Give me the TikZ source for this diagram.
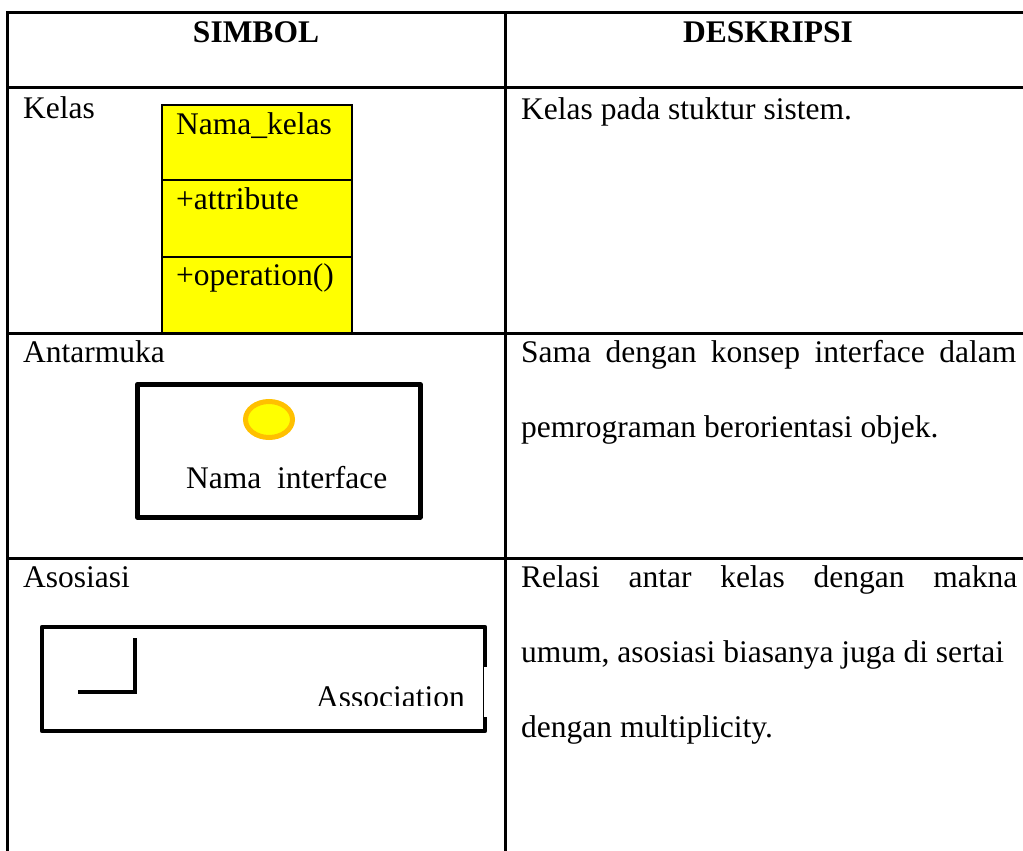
\documentclass[tikz,border=0pt]{standalone}
\usepackage{fontspec}
\setmainfont{Liberation Serif}
\usetikzlibrary{shapes.geometric}
\definecolor{umlyellow}{HTML}{FFFF00}
\definecolor{umlorange}{HTML}{FFC000}
\begin{document}
\begin{tikzpicture}[x=1pt,y=-1pt,
  txt/.style={anchor=base west, inner sep=0pt, font=\fontsize{31.5}{38}\selectfont},
  hdr/.style={anchor=base, inner sep=0pt, font=\fontsize{31.5}{38}\selectfont\bfseries},
  rule/.style={line width=3pt},
  classpart/.style={draw, fill=umlyellow, line width=2pt, anchor=north west,
    minimum width=190pt, minimum height=76pt, inner sep=0pt},
  symbox/.style={draw, line width=4.5pt, line join=round, anchor=north west, inner sep=0pt},
  iface/.style={ellipse, draw=umlorange, fill=umlyellow, line width=5pt,
    minimum width=47pt, minimum height=36pt, inner sep=0pt}]
\useasboundingbox (0,0) rectangle (1023,851);

% table grid
\draw[rule] (7,13) -- (1023,13);
\draw[rule] (7,88) -- (1023,88);
\draw[rule] (7,333) -- (1023,333);
\draw[rule] (7,558) -- (1023,558);
\draw[rule] (7,11.5) -- (7,851);
\draw[rule] (505,11.5) -- (505,851);

% header
\node[hdr] (hsym) at (256,43) {SIMBOL};
\node[hdr] (hdesc) at (768,43) {DESKRIPSI};

% row: class
\node[txt] (kelas) at (23,118) {Kelas};
\node[classpart] (cname) at (161,104) {};
\node[classpart, minimum height=77pt] (cattr) at (161,179) {};
\node[classpart] (cop) at (161,256) {};
\node[txt] (tname) at (176,134) {Nama\_kelas};
\node[txt] (tattr) at (176,209) {+attribute};
\node[txt] (top) at (176,285) {+operation()};
\node[txt] (dkelas) at (521,119) {Kelas pada stuktur sistem.};

% row: interface
\node[txt] (antarmuka) at (23,362) {Antarmuka};
\node[symbox, minimum width=283pt, minimum height=133pt] (ibox) at (135,382) {};
\node[iface] (iball) at (269,419.5) {};
\node[txt] (iname) at (186,488) {Nama\ \ interface};
\node[txt] (dif1) at (521,362) {\makebox[495pt][s]{Sama dengan konsep interface dalam}};
\node[txt] (dif2) at (521,437) {pemrograman berorientasi objek.};

% row: association
\node[txt] (asosiasi) at (23,587) {Asosiasi};
\coordinate (atl) at (42,627);
\coordinate (atr) at (485,627);
\coordinate (abl) at (42,731);
\coordinate (abr) at (485,731);
\coordinate (agap1) at (485,667);
\coordinate (agap2) at (485,717);
\draw[line width=4.5pt, line join=round] (agap1) -- (atr) -- (atl) -- (abl) -- (abr) -- (agap2);
\draw[line width=1pt] ([xshift=-1.5pt]agap1) -- ([xshift=-1.5pt]agap2);
\coordinate (lv) at (135,638);
\coordinate (lc) at (135,692);
\coordinate (lh) at (78,692);
\draw[line width=4pt] (lv) -- (lc) -- (lh);
\begin{scope}
  \clip (300,640) rectangle (480,705);
  \node[txt] (atext) at (316,707) {Association};
\end{scope}
\node[txt] (das1) at (521,587) {\makebox[496pt][s]{Relasi antar kelas dengan makna}};
\node[txt] (das2) at (521,662) {umum, asosiasi biasanya juga di sertai};
\node[txt] (das3) at (521,737) {dengan multiplicity.};
\end{tikzpicture}
\end{document}
